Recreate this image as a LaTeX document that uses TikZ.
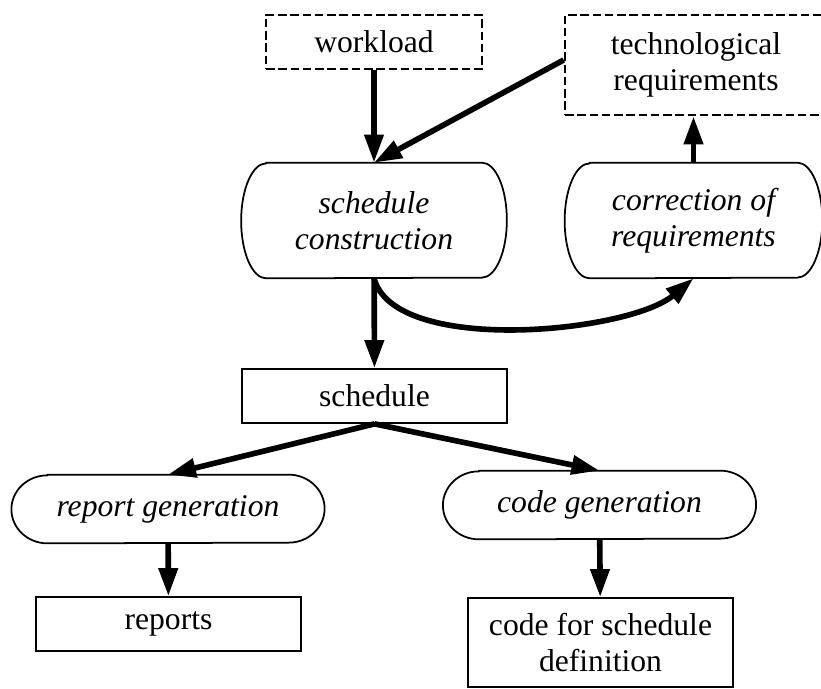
\documentclass[tikz,border=0pt]{standalone}
\usepackage{fontspec}
\setmainfont{Liberation Serif}
\usetikzlibrary{arrows.meta}

% outline with elliptic ends round a node: name, x radius, y radius
\newcommand{\pill}[3]{%
  \draw[line width=1pt] ([xshift=#2]#1.north west) -- ([xshift=-#2]#1.north east)
    arc[start angle=90, end angle=-90, x radius=#2, y radius=#3]
    -- ([xshift=#2]#1.south west)
    arc[start angle=270, end angle=90, x radius=#2, y radius=#3] -- cycle;}

\begin{document}
\begin{tikzpicture}[
  every node/.style={font=\fontsize{18}{20.5}\selectfont, align=center, inner sep=0pt},
  box/.style={draw, line width=1pt, minimum width=5.3cm, minimum height=1.08cm},
  dbox/.style={box, line width=1.5pt, dash pattern=on 0.17cm off 0.075cm},
  proc/.style={minimum width=5.3cm, minimum height=2.3cm, font=\fontsize{18}{20.5}\selectfont\itshape},
  gen/.style={minimum width=6.25cm, minimum height=1.36cm, font=\fontsize{18}{20.5}\selectfont\itshape},
  arr/.style={line width=3.2pt, -{Triangle[length=0.56cm,width=0.37cm]}}
]
\clip (0,0) rectangle (16.42,13.76);
% inputs
\node[dbox, minimum width=4.32cm] (work) at (7.48,12.92) {workload};
\node[dbox, minimum width=5.24cm, minimum height=2cm] (tech) at (13.92,12.46) {technological\\requirements};
% processes
\node[proc] (build) at (7.48,9.35) {schedule\\construction};
\node[proc, minimum width=5.14cm] (corr) at (13.87,9.35) {correction of\\requirements};
\node[box] (sched) at (7.49,5.84) {schedule};
\node[gen] (rgen) at (3.36,3.58) {report generation};
\node[gen] (cgen) at (11.99,3.66) {code generation};
\pill{build}{0.5cm}{1.15cm}
\pill{corr}{0.5cm}{1.15cm}
\pill{rgen}{0.72cm}{0.68cm}
\pill{cgen}{0.72cm}{0.68cm}
% outputs
\node[box] (rep) at (3.37,1.28) {reports};
\node[box, minimum height=1.78cm] (code) at (12.01,0.91) {code for schedule\\definition};

\draw[arr] (work) -- (build);
\draw[arr] ([yshift=1mm]tech.west) -- (build.north);
\draw[arr] (corr.north) -- (corr.north |- tech.south);
\draw[arr] (build) -- (sched);
\draw[arr] (build.south) .. controls +(-75:1.6) and +(-140:1.7) .. (corr.south);
\draw[arr] (sched.south) -- (rgen.north);
\draw[arr] (sched.south) -- (cgen.north);
\draw[arr] (rgen) -- (rep);
\draw[arr] (cgen) -- (code);
\end{tikzpicture}
\end{document}
